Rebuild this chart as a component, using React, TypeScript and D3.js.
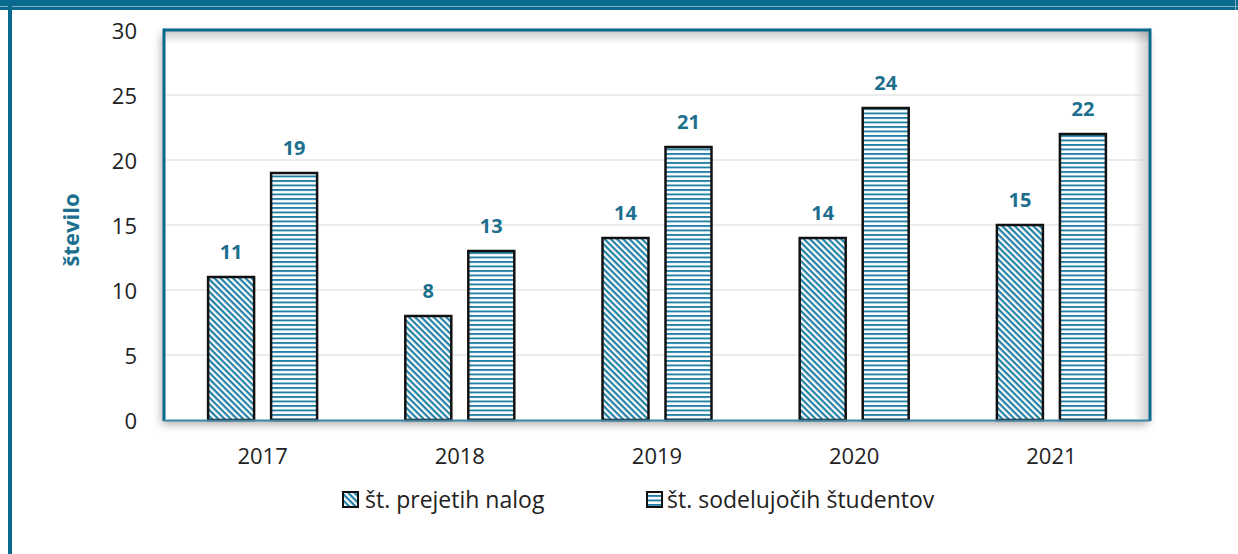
import React from 'react';
import * as d3 from 'd3';

const years = ['2017', '2018', '2019', '2020', '2021'];
const seriesNames = ['št. prejetih nalog', 'št. sodelujočih študentov'];
const prejeteNaloge = [11, 8, 14, 14, 15];
const sodelujociStudenti = [19, 13, 21, 24, 22];
const yTicks = [0, 5, 10, 15, 20, 25, 30];
const yTitle = 'število';

const W = 1238;
const H = 554;
const TEAL = '#0a6a8e';
const LABEL = '#1d6f8e';
const STRIPE = '#2380a5';
const FONT = '"Open Sans", "Noto Sans", sans-serif';

export default function App() {
  const left = 164, right = 1150, top = 30, bottom = 420;
  const x0 = d3.scaleBand<string>().domain(years).range([left, right]).paddingInner(0).paddingOuter(0);
  const x1 = d3.scaleBand<string>().domain(['a', 'b']).range([0, x0.bandwidth()]).paddingInner(0.27).paddingOuter(0.7);
  const y = d3.scaleLinear().domain([0, 30]).range([bottom, top]);

  const series = [
    { key: 'a', values: prejeteNaloge, fill: 'url(#diag)' },
    { key: 'b', values: sodelujociStudenti, fill: 'url(#horiz)' },
  ];

  return (
    <svg width={W} height={H} style={{ position: 'absolute', left: 0, top: 0, background: '#fff' }} fontFamily={FONT}>
      <defs>
        <pattern id="diag" patternUnits="userSpaceOnUse" width={4.4} height={4.4} patternTransform="rotate(45)">
          <rect width={4.4} height={4.4} fill="#fff" />
          <rect y={0} width={4.4} height={2.2} fill={STRIPE} />
        </pattern>
        <pattern id="horiz" patternUnits="userSpaceOnUse" width={10} height={4.5}>
          <rect width={10} height={4.5} fill="#fff" />
          <rect y={0} width={10} height={1.9} fill={STRIPE} />
        </pattern>
        <filter id="outerShadow" x="-5%" y="-10%" width="110%" height="125%">
          <feDropShadow dx={-2} dy={4} stdDeviation={5} floodColor="#000" floodOpacity={0.35} />
        </filter>
        <linearGradient id="innerTop" x1="0" y1="0" x2="0" y2="1">
          <stop offset="0" stopColor="#000" stopOpacity={0.22} />
          <stop offset="1" stopColor="#000" stopOpacity={0} />
        </linearGradient>
        <linearGradient id="innerRight" x1="1" y1="0" x2="0" y2="0">
          <stop offset="0" stopColor="#000" stopOpacity={0.2} />
          <stop offset="1" stopColor="#000" stopOpacity={0} />
        </linearGradient>
      </defs>

      {/* page frame */}
      <rect x={0} y={0} width={W} height={10} fill={TEAL} />
      <rect x={0} y={6} width={W} height={1} fill="#7fb0c4" />
      <rect x={8} y={0} width={4} height={H} fill={TEAL} />
      <rect x={1235} y={0} width={1} height={10} fill="#7fb0c4" />

      {/* plot area with shadows */}
      <rect x={left} y={top} width={right - left} height={bottom - top} fill="#fff" filter="url(#outerShadow)" />
      <rect x={left} y={top} width={right - left} height={14} fill="url(#innerTop)" />
      <rect x={right - 16} y={top} width={16} height={bottom - top} fill="url(#innerRight)" />

      {/* gridlines */}
      {yTicks.filter(t => t > 0 && t < 30).map(t => (
        <line key={t} x1={left} x2={right} y1={y(t)} y2={y(t)} stroke="#d9d9d9" strokeWidth={1} />
      ))}

      {/* bars */}
      {series.map(s => (
        <g key={s.key}>
          {years.map((yr, i) => {
            const bx = (x0(yr) as number) + (x1(s.key) as number);
            const by = y(s.values[i]);
            return (
              <rect key={yr} x={bx} y={by} width={x1.bandwidth()} height={bottom - by}
                fill={s.fill} stroke="#111" strokeWidth={2.5} />
            );
          })}
        </g>
      ))}

      {/* data labels */}
      {series.map(s => (
        <g key={'l' + s.key}>
          {years.map((yr, i) => {
            const cx = (x0(yr) as number) + (x1(s.key) as number) + x1.bandwidth() / 2;
            return (
              <text key={yr} x={cx} y={y(s.values[i]) - 26} textAnchor="middle" dominantBaseline="central"
                fontSize={20} fontWeight={700} fill={LABEL}>{s.values[i]}</text>
            );
          })}
        </g>
      ))}

      {/* plot border */}
      <line x1={left} x2={left} y1={top - 1.5} y2={bottom + 1} stroke={TEAL} strokeWidth={3} />
      <line x1={left} x2={right} y1={top} y2={top} stroke={TEAL} strokeWidth={3} />
      <line x1={right} x2={right} y1={top - 1.5} y2={bottom + 1} stroke={TEAL} strokeWidth={3} />
      <line x1={left} x2={right} y1={bottom + 0.5} y2={bottom + 0.5} stroke="#3d86a6" strokeWidth={2} />

      {/* y ticks */}
      {yTicks.map(t => (
        <text key={t} x={137} y={y(t)} textAnchor="end" dominantBaseline="central" fontSize={22} fill="#222">{t}</text>
      ))}

      {/* x labels */}
      {years.map(yr => (
        <text key={yr} x={(x0(yr) as number) + x0.bandwidth() / 2} y={455} textAnchor="middle" dominantBaseline="central"
          fontSize={22} fill="#222">{yr}</text>
      ))}

      {/* y title */}
      <text transform={`translate(70,230) rotate(-90)`} textAnchor="middle" dominantBaseline="central"
        fontSize={22} fontWeight={700} fill={LABEL}>{yTitle}</text>

      {/* legend */}
      {[{ bx: 343, tx: 365, fill: 'url(#diag)' }, { bx: 647, tx: 667, fill: 'url(#horiz)' }].map((l, i) => (
        <g key={i}>
          <rect x={l.bx} y={492} width={15} height={15} fill={l.fill} stroke="#111" strokeWidth={2} />
          <text x={l.tx} y={499} dominantBaseline="central" fontSize={23} fill="#222">{seriesNames[i]}</text>
        </g>
      ))}
    </svg>
  );
}
